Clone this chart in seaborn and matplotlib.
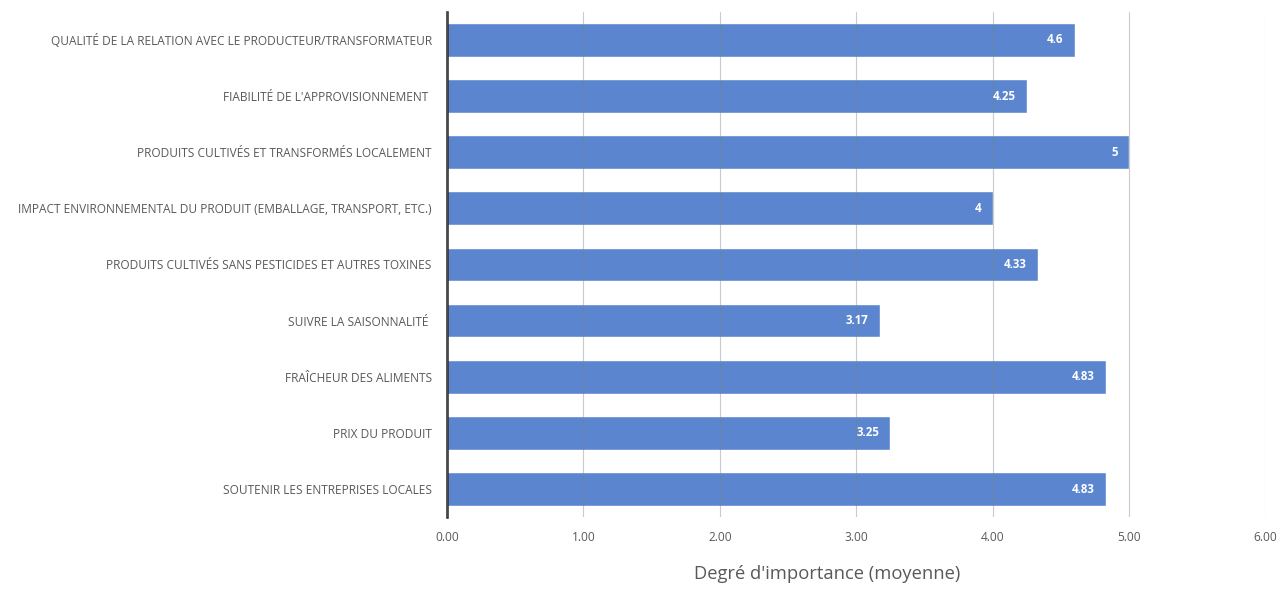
import pandas as pd
import seaborn as sns
from matplotlib import pyplot as plt

# Criteria (top to bottom) and mean importance scores
criteres = [
    "QUALITÉ DE LA RELATION AVEC LE PRODUCTEUR/TRANSFORMATEUR",
    "FIABILITÉ DE L'APPROVISIONNEMENT ",
    "PRODUITS CULTIVÉS ET TRANSFORMÉS LOCALEMENT",
    "IMPACT ENVIRONNEMENTAL DU PRODUIT (EMBALLAGE, TRANSPORT, ETC.)",
    "PRODUITS CULTIVÉS SANS PESTICIDES ET AUTRES TOXINES",
    "SUIVRE LA SAISONNALITÉ ",
    "FRAÎCHEUR DES ALIMENTS",
    "PRIX DU PRODUIT",
    "SOUTENIR LES ENTREPRISES LOCALES",
]
moyennes = [4.6, 4.25, 5, 4, 4.33, 3.17, 4.83, 3.25, 4.83]
etiquettes = ["4.6", "4.25", "5", "4", "4.33", "3.17", "4.83", "3.25", "4.83"]
x_ticks = [0, 1, 2, 3, 4, 5, 6]

df = pd.DataFrame({"critere": criteres, "moyenne": moyennes})

sns.set_style("white")
plt.rcParams["font.family"] = ["Open Sans", "DejaVu Sans"]

fig, ax = plt.subplots(figsize=(12.81, 5.89), dpi=100)
fig.subplots_adjust(left=0.349, right=0.988, top=0.980, bottom=0.122)

sns.barplot(data=df, x="moyenne", y="critere", orient="h", color="#5b86cf",
            saturation=1, width=0.6, ax=ax)

# value labels inside the bar ends
for i, (v, lab) in enumerate(zip(moyennes, etiquettes)):
    ax.text(v - 0.08, i, lab, ha="right", va="center", color="white",
            fontsize=8.3, fontweight="bold")

ax.set_xlim(0, 6)
ax.set_xticks(x_ticks)
ax.set_xticklabels([f"{t:.2f}" for t in x_ticks])
ax.set_ylim(8.5, -0.5)
ax.grid(axis="x", color="#7f7f7f", linewidth=0.8, alpha=0.4)
ax.set_axisbelow(False)
ax.tick_params(axis="both", length=0, labelsize=8.6, labelcolor="#595959")
ax.tick_params(axis="x", pad=10)
ax.tick_params(axis="y", pad=11)
ax.set_ylabel("")
ax.set_xlabel("Degré d'importance (moyenne)", fontsize=13.2, color="#595959")
ax.xaxis.set_label_coords(0.464, -0.095)

sns.despine(ax=ax, top=True, right=True, bottom=True)
ax.spines["left"].set_color("#262626")
ax.spines["left"].set_linewidth(1.8)

fig.savefig("out.png", dpi=100)
